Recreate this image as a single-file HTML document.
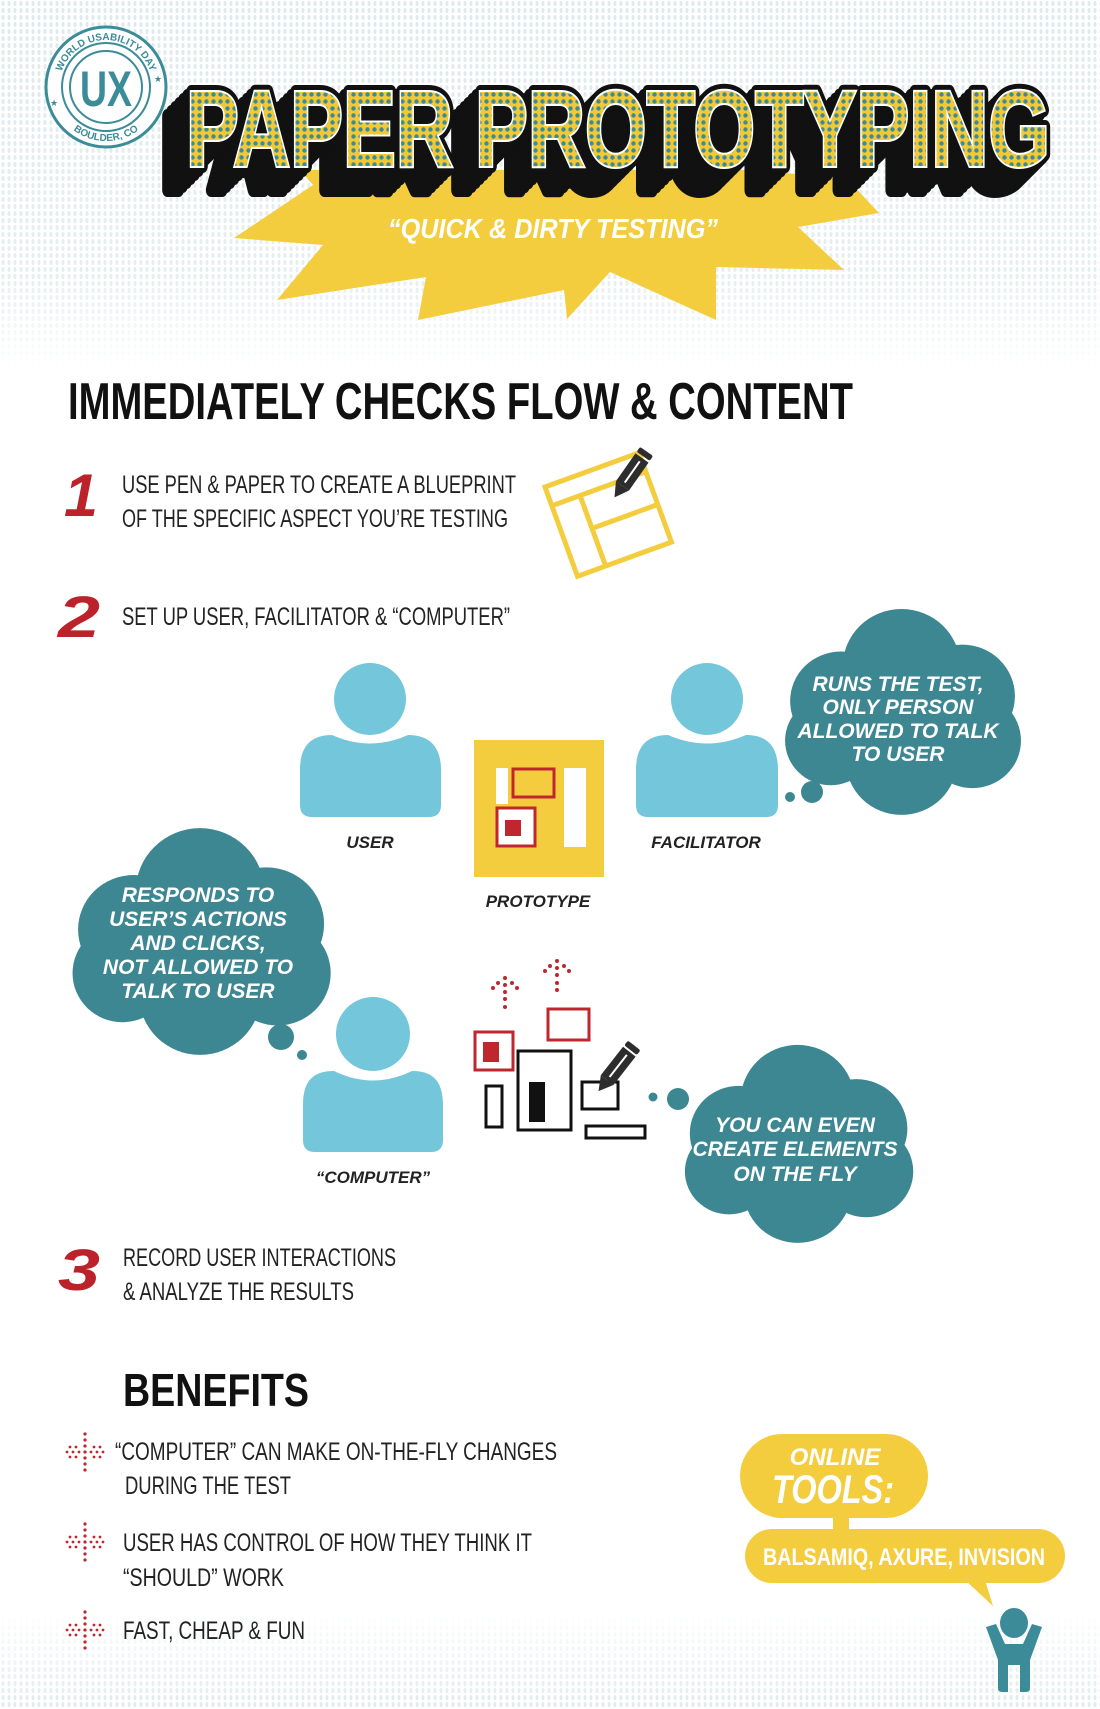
<!DOCTYPE html>
<html><head><meta charset="utf-8"><style>html,body{margin:0;padding:0;background:#fff}svg{display:block}</style></head>
<body>
<svg width="1100" height="1709" viewBox="0 0 1100 1709" xmlns="http://www.w3.org/2000/svg" font-family="Liberation Sans, sans-serif">
<defs>
<pattern id="dots" width="6" height="7" patternUnits="userSpaceOnUse"><ellipse cx="3" cy="3.5" rx="1.6" ry="2.6" fill="#dfeaed"/></pattern>
<linearGradient id="fadeTop" x1="0" y1="0" x2="0" y2="1"><stop offset="0" stop-color="#fff" stop-opacity="1"/><stop offset="0.75" stop-color="#fff" stop-opacity="0.8"/><stop offset="1" stop-color="#fff" stop-opacity="0"/></linearGradient>
<linearGradient id="fadeBot" x1="0" y1="0" x2="0" y2="1"><stop offset="0" stop-color="#fff" stop-opacity="0"/><stop offset="1" stop-color="#fff" stop-opacity="1"/></linearGradient>
<mask id="mTop"><rect x="0" y="0" width="1100" height="370" fill="url(#fadeTop)"/></mask>
<mask id="mBot"><rect x="0" y="1610" width="1100" height="99" fill="url(#fadeBot)"/></mask>
<pattern id="half" width="7" height="7" patternUnits="userSpaceOnUse"><rect width="7" height="7" fill="#f2c935"/><circle cx="3.5" cy="3.5" r="2.2" fill="#3b8c98"/></pattern>
<g id="cloud">
<circle cx="120" cy="60" r="58"/><circle cx="60" cy="95" r="50"/><circle cx="180" cy="90" r="52"/>
<circle cx="50" cy="135" r="45"/><circle cx="190" cy="135" r="48"/><circle cx="120" cy="155" r="55"/>
<ellipse cx="120" cy="110" rx="95" ry="65"/>
</g>
<g id="bul" fill="#c0262d">
<circle cx="19" cy="0" r="1.6"/><circle cx="19" cy="6" r="1.6"/><circle cx="19" cy="-6" r="1.6"/><circle cx="19" cy="12" r="1.6"/><circle cx="19" cy="-12" r="1.6"/><circle cx="19" cy="-18" r="1.6"/><circle cx="19" cy="18" r="1.6"/>
<circle cx="1" cy="0" r="1.4"/><circle cx="7" cy="0" r="1.4"/><circle cx="13" cy="0" r="1.4"/><circle cx="25" cy="0" r="1.4"/><circle cx="31" cy="0" r="1.4"/><circle cx="37" cy="0" r="1.4"/>
<circle cx="4" cy="-5" r="1.4"/><circle cx="10" cy="-5" r="1.4"/><circle cx="28" cy="-5" r="1.4"/><circle cx="34" cy="-5" r="1.4"/>
<circle cx="4" cy="5" r="1.4"/><circle cx="10" cy="5" r="1.4"/><circle cx="28" cy="5" r="1.4"/><circle cx="34" cy="5" r="1.4"/>
</g>
<text id="tt" x="186" y="166" font-weight="bold" font-size="108" textLength="864" lengthAdjust="spacingAndGlyphs">PAPER PROTOTYPING</text>
</defs>

<rect x="0" y="0" width="1100" height="370" fill="url(#dots)" mask="url(#mTop)"/>
<rect x="0" y="1610" width="1100" height="99" fill="url(#dots)" mask="url(#mBot)"/>

<!-- stamp -->
<g>
<circle cx="106" cy="87" r="60" fill="#fff" stroke="#3b8c98" stroke-width="3"/>
<circle cx="106" cy="87" r="44" fill="none" stroke="#3b8c98" stroke-width="2"/>
<circle cx="106" cy="87" r="36" fill="none" stroke="#3b8c98" stroke-width="2"/>
<text x="106" y="106" text-anchor="middle" font-size="50" font-weight="bold" fill="#3b8c98" textLength="52" lengthAdjust="spacingAndGlyphs">UX</text>
<path id="arcT" d="M59,87 A47,47 0 0 1 153,87" fill="none"/>
<text font-size="10" font-weight="bold" fill="#3b8c98"><textPath href="#arcT" startOffset="50%" text-anchor="middle">WORLD USABILITY DAY</textPath></text>
<path id="arcB" d="M52,87 A54,54 0 0 0 160,87" fill="none"/>
<text font-size="10" font-weight="bold" fill="#3b8c98"><textPath href="#arcB" startOffset="50%" text-anchor="middle">BOULDER, CO</textPath></text>
<text x="50" y="106" font-size="9" fill="#3b8c98">★</text><text x="154" y="82" font-size="9" fill="#3b8c98">★</text>
</g>

<!-- starburst -->
<polygon fill="#f4cd3f" points="300,170 313,185 234,238 323,245 277,300 426,277 418,320 564,290 567,319 610,272 716,320 716,267 844,270 798,227 879,213 848,180 760,170"/>
<text x="553" y="238" text-anchor="middle" font-size="28" font-weight="bold" font-style="italic" fill="#fff" textLength="330" lengthAdjust="spacingAndGlyphs">“QUICK &amp; DIRTY TESTING”</text>

<!-- title -->
<g fill="#111" stroke="#111" stroke-width="14" stroke-linejoin="round">
<use href="#tt" transform="translate(-24,24)"/>
<use href="#tt" transform="translate(-20,20)"/>
<use href="#tt" transform="translate(-16,16)"/>
<use href="#tt" transform="translate(-12,12)"/>
<use href="#tt" transform="translate(-8,8)"/>
<use href="#tt" transform="translate(-4,4)"/>
<use href="#tt"/>
</g>
<use href="#tt" fill="url(#half)" stroke="#fff" stroke-width="4" paint-order="stroke"/>

<text x="68" y="419" font-size="52" font-weight="bold" fill="#111" textLength="785" lengthAdjust="spacingAndGlyphs">IMMEDIATELY CHECKS FLOW &amp; CONTENT</text>

<text x="64" y="516" font-size="60" font-weight="bold" font-style="italic" fill="#bb2229" textLength="34" lengthAdjust="spacingAndGlyphs">1</text>
<g font-size="25" fill="#222">
<text x="122" y="493" textLength="394" lengthAdjust="spacingAndGlyphs">USE PEN &amp; PAPER TO CREATE A BLUEPRINT</text>
<text x="122" y="527" textLength="386" lengthAdjust="spacingAndGlyphs">OF THE SPECIFIC ASPECT YOU’RE TESTING</text>
<text x="122" y="625" textLength="388" lengthAdjust="spacingAndGlyphs">SET UP USER, FACILITATOR &amp; “COMPUTER”</text>
</g>
<g transform="translate(545,487) rotate(-20)" fill="none" stroke="#f4cd3f" stroke-width="5">
<rect x="0" y="0" width="100" height="95"/>
<line x1="0" y1="20" x2="100" y2="20"/><line x1="30" y1="20" x2="30" y2="95"/><line x1="30" y1="55" x2="100" y2="55"/>
</g>
<g transform="translate(642,458) rotate(35)">
<rect x="-8" y="0" width="16" height="34" fill="#2d2d2d"/><rect x="-8" y="-8" width="16" height="6" rx="2" fill="#2d2d2d"/>
<polygon points="-8,34 8,34 0,48" fill="#2d2d2d"/><line x1="0" y1="4" x2="0" y2="30" stroke="#fff" stroke-width="2"/>
</g>

<text x="58" y="637" font-size="58" font-weight="bold" font-style="italic" fill="#bb2229" textLength="42" lengthAdjust="spacingAndGlyphs">2</text>

<g fill="#74c6db">
<circle cx="370" cy="699" r="36"/>
<path d="M300,805 V770 C300,745 312,735 332,735 Q370,752 408,735 C428,735 441,745 441,770 V805 Q441,817 429,817 H312 Q300,817 300,805 Z"/>
<circle cx="707" cy="699" r="36"/>
<path d="M636,805 V770 C636,745 648,735 668,735 Q707,752 746,735 C766,735 778,745 778,770 V805 Q778,817 766,817 H648 Q636,817 636,805 Z"/>
<circle cx="373" cy="1034" r="37"/>
<path d="M303,1140 V1105 C303,1080 314,1071 334,1071 Q373,1090 412,1071 C432,1071 443,1080 443,1105 V1140 Q443,1152 431,1152 H315 Q303,1152 303,1140 Z"/>
</g>
<g font-size="17" font-weight="bold" font-style="italic" fill="#222" text-anchor="middle">
<text x="370" y="848">USER</text>
<text x="706" y="848">FACILITATOR</text>
<text x="538" y="907">PROTOTYPE</text>
<text x="373" y="1183">“COMPUTER”</text>
</g>

<rect x="474" y="740" width="130" height="137" fill="#f4cd3f"/>
<rect x="564" y="768" width="22" height="79" fill="#fff"/>
<rect x="496" y="768" width="12" height="36" fill="#fff"/>
<rect x="513" y="769" width="41" height="28" fill="none" stroke="#c0262d" stroke-width="3"/>
<rect x="497" y="808" width="38" height="38" fill="#fff" stroke="#c0262d" stroke-width="3"/>
<rect x="505" y="820" width="16" height="16" fill="#c0262d"/>

<g fill="#3d8793">
<use href="#cloud" transform="translate(780,607) scale(1.0125,0.99)"/>
<circle cx="812" cy="792" r="11"/><circle cx="790" cy="797" r="5"/>
<use href="#cloud" transform="translate(67,826) scale(1.108,1.09)"/>
<circle cx="281" cy="1037" r="13"/><circle cx="302" cy="1055" r="5"/>
<use href="#cloud" transform="translate(680,1043) scale(0.98,0.952)"/>
<circle cx="678" cy="1099" r="11"/><circle cx="653" cy="1097" r="4.5"/>
</g>
<g font-size="21" font-weight="bold" font-style="italic" fill="#fff" text-anchor="middle">
<text x="898" y="691">RUNS THE TEST,</text>
<text x="898" y="714">ONLY PERSON</text>
<text x="898" y="738">ALLOWED TO TALK</text>
<text x="898" y="761">TO USER</text>
<text x="198" y="902">RESPONDS TO</text>
<text x="198" y="926">USER’S ACTIONS</text>
<text x="198" y="950">AND CLICKS,</text>
<text x="198" y="974">NOT ALLOWED TO</text>
<text x="198" y="998">TALK TO USER</text>
<text x="795" y="1132">YOU CAN EVEN</text>
<text x="795" y="1156">CREATE ELEMENTS</text>
<text x="795" y="1181">ON THE FLY</text>
</g>

<g fill="#c0262d">
<circle cx="505" cy="978" r="2"/><circle cx="498" cy="983" r="2"/><circle cx="512" cy="983" r="2"/><circle cx="493" cy="988" r="2"/><circle cx="517" cy="988" r="2"/><circle cx="505" cy="985" r="2"/><circle cx="505" cy="992" r="2"/><circle cx="505" cy="999" r="2"/><circle cx="505" cy="1007" r="2"/>
<circle cx="557" cy="961" r="2"/><circle cx="550" cy="966" r="2"/><circle cx="564" cy="966" r="2"/><circle cx="545" cy="971" r="2"/><circle cx="569" cy="971" r="2"/><circle cx="557" cy="968" r="2"/><circle cx="557" cy="975" r="2"/><circle cx="557" cy="983" r="2"/><circle cx="557" cy="990" r="2"/>
</g>
<rect x="475" y="1032" width="38" height="38" fill="none" stroke="#c0262d" stroke-width="3"/>
<rect x="483" y="1042" width="16" height="20" fill="#c0262d"/>
<rect x="548" y="1009" width="41" height="31" fill="none" stroke="#c0262d" stroke-width="3"/>
<g fill="none" stroke="#111" stroke-width="3">
<rect x="518" y="1051" width="53" height="79"/>
<rect x="486" y="1086" width="16" height="41"/>
<rect x="582" y="1082" width="36" height="27"/>
<rect x="586" y="1126" width="59" height="12"/>
</g>
<rect x="529" y="1082" width="16" height="40" fill="#111"/>
<g transform="translate(633,1047) rotate(38)">
<rect x="-8" y="6" width="16" height="36" fill="#2d2d2d"/><rect x="-8" y="-2" width="16" height="6" rx="2" fill="#2d2d2d"/>
<polygon points="-8,42 8,42 0,56" fill="#2d2d2d"/><line x1="0" y1="10" x2="0" y2="38" stroke="#fff" stroke-width="2"/>
</g>

<text x="58" y="1290" font-size="58" font-weight="bold" font-style="italic" fill="#bb2229" textLength="42" lengthAdjust="spacingAndGlyphs">3</text>
<g font-size="25" fill="#222">
<text x="123" y="1266" textLength="273" lengthAdjust="spacingAndGlyphs">RECORD USER INTERACTIONS</text>
<text x="123" y="1300" textLength="231" lengthAdjust="spacingAndGlyphs">&amp; ANALYZE THE RESULTS</text>
</g>

<text x="123" y="1406" font-size="46" font-weight="bold" fill="#111" textLength="186" lengthAdjust="spacingAndGlyphs">BENEFITS</text>
<use href="#bul" transform="translate(66,1452)"/>
<use href="#bul" transform="translate(66,1542)"/>
<use href="#bul" transform="translate(66,1630)"/>
<g font-size="25" fill="#222">
<text x="115" y="1460" textLength="442" lengthAdjust="spacingAndGlyphs">“COMPUTER” CAN MAKE ON-THE-FLY CHANGES</text>
<text x="125" y="1494" textLength="166" lengthAdjust="spacingAndGlyphs">DURING THE TEST</text>
<text x="123" y="1551" textLength="409" lengthAdjust="spacingAndGlyphs">USER HAS CONTROL OF HOW THEY THINK IT</text>
<text x="123" y="1586" textLength="161" lengthAdjust="spacingAndGlyphs">“SHOULD” WORK</text>
<text x="123" y="1639" textLength="182" lengthAdjust="spacingAndGlyphs">FAST, CHEAP &amp; FUN</text>
</g>

<g fill="#f4cd3f">
<rect x="740" y="1434" width="188" height="84" rx="42"/>
<rect x="833" y="1515" width="16" height="18"/>
<rect x="745" y="1529" width="320" height="54" rx="27"/>
<polygon points="965,1580 985,1580 993,1606"/>
</g>
<text x="835" y="1465" text-anchor="middle" font-size="24" font-weight="bold" font-style="italic" fill="#fff">ONLINE</text>
<text x="833" y="1503" text-anchor="middle" font-size="40" font-weight="bold" font-style="italic" fill="#fff" textLength="122" lengthAdjust="spacingAndGlyphs">TOOLS:</text>
<text x="904" y="1565" text-anchor="middle" font-size="24" font-weight="bold" fill="#fff" textLength="282" lengthAdjust="spacingAndGlyphs">BALSAMIQ, AXURE, INVISION</text>

<g fill="#3b8c98">
<ellipse cx="1014" cy="1623" rx="14" ry="15"/>
<path d="M986,1627 L996,1624 L1005,1644 H1023 L1032,1624 L1042,1627 L1030,1660 V1688 Q1030,1692 1026,1692 H1020 V1665 H1008 V1692 H1002 Q998,1692 998,1688 V1660 Z"/>
</g>
</svg>
</body></html>
